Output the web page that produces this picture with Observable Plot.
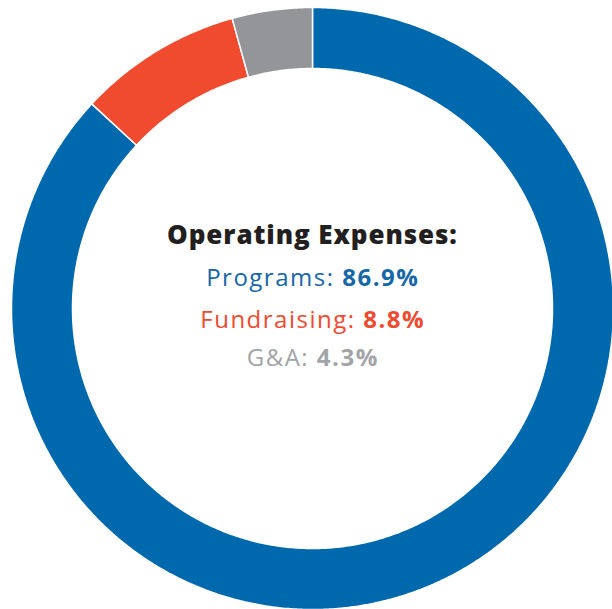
<!DOCTYPE html>
<html>
<head>
<meta charset="utf-8">
<script src="https://cdn.jsdelivr.net/npm/d3@7"></script>
<script src="https://cdn.jsdelivr.net/npm/@observablehq/plot@0.6"></script>
<style>
  html, body { margin: 0; padding: 0; background: #fff; }
  #chart { width: 612px; height: 609px; }
</style>
</head>
<body>
<div id="chart"></div>
<script>
// ---- data ----
const categories = ["Programs", "Fundraising", "G&A"];
const shares = [86.9, 8.8, 4.3];
const sliceColors = ["#0069AE", "#F04A2F", "#949599"];
const labelColors = ["#1666A8", "#F04A2F", "#A3A4A7"];
const title = "Operating Expenses:";

// ---- layout ----
const W = 612, H = 609;
const cx = 312, cy = 308, R = 301, innerRatio = 240 / 301;

const pie = d3.pie().sort(null).startAngle(0).endAngle(2 * Math.PI)(shares);
const pts = [];
pie.forEach((p, i) => {
  const a0 = p.startAngle, a1 = p.endAngle;
  const n = Math.max(4, Math.ceil((a1 - a0) / (Math.PI / 360)));
  const ring = [];
  for (let k = 0; k <= n; k++) {
    const a = a0 + (a1 - a0) * k / n;
    ring.push({ a, r: 1 });
  }
  for (let k = n; k >= 0; k--) {
    const a = a0 + (a1 - a0) * k / n;
    ring.push({ a, r: innerRatio });
  }
  ring.push(ring[0]);
  ring.forEach(q => pts.push({
    cat: categories[i],
    x: q.r * Math.sin(q.a),
    y: q.r * Math.cos(q.a)
  }));
});

const chart = Plot.plot({
  width: W,
  height: H,
  margin: 0,
  style: { background: "white", overflow: "visible" },
  x: { domain: [-cx / R, (W - cx) / R], axis: null },
  y: { domain: [-(H - cy) / R, cy / R], axis: null },
  color: { domain: categories, range: sliceColors },
  marks: [
    Plot.line(pts, {
      x: "x", y: "y", z: "cat", fill: "cat",
      stroke: "white", strokeWidth: 1.5, strokeLinejoin: "miter", curve: "linear"
    })
  ]
});
document.getElementById("chart").appendChild(chart);

// ---- center label ----
const svg = d3.select(chart);
const xs = chart.scale("x");
const tx = xs.apply(0);
const fam = "'Open Sans', Lato, sans-serif";
svg.append("text")
  .attr("x", tx).attr("y", 244).attr("dx", 0.45).attr("text-anchor", "middle")
  .attr("font-family", fam).attr("font-size", 26).attr("font-weight", 800)
  .attr("letter-spacing", 0.9)
  .attr("fill", "#231F20").text(title);
const baselines = [286, 328, 366];
categories.forEach((c, i) => {
  const t = svg.append("text")
    .attr("x", tx).attr("y", baselines[i]).attr("dx", 0.75).attr("text-anchor", "middle")
    .attr("font-family", fam).attr("font-size", 24)
    .attr("letter-spacing", 1.5)
    .attr("fill", labelColors[i]);
  t.append("tspan").attr("font-weight", 400).text(c + ": ");
  t.append("tspan").attr("font-weight", 700).text(shares[i].toFixed(1) + "%");
});
</script>
</body>
</html>
